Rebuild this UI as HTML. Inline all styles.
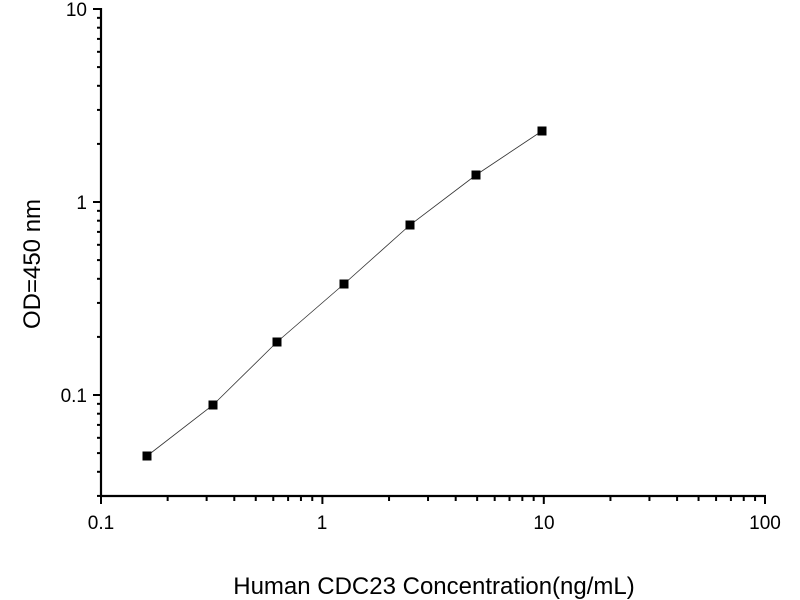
<!DOCTYPE html>
<html><head><meta charset="utf-8"><style>
html,body{margin:0;padding:0;background:#fff;}
svg{display:block;font-family:"Liberation Sans",Arial,sans-serif;}
</style></head><body>
<svg id="s" width="800" height="600" viewBox="0 0 800 600" xmlns="http://www.w3.org/2000/svg">
<g stroke="#000" stroke-width="2.2" fill="none">
<line x1="101" y1="8" x2="101" y2="496"/>
<line x1="100" y1="496" x2="766" y2="496"/>
</g>
<g id="ticks" stroke="#000" stroke-width="2"></g>
<g font-size="19" fill="#000">
<text x="87" y="16" text-anchor="end">10</text>
<text x="87" y="209" text-anchor="end">1</text>
<text x="87" y="402" text-anchor="end">0.1</text>
<text x="101" y="529" text-anchor="middle">0.1</text>
<text x="322" y="529" text-anchor="middle">1</text>
<text x="544" y="529" text-anchor="middle">10</text>
<text x="765" y="529" text-anchor="middle">100</text>
<text x="434" y="594" text-anchor="middle" font-size="24">Human CDC23 Concentration(ng/mL)</text>
<text transform="translate(40,264) rotate(-90)" text-anchor="middle" font-size="24">OD=450 nm</text>
</g>
<polyline fill="none" stroke="#333" stroke-width="0.8" points="147,456 213,405 277,342 344,284 410,225 476,175 542,131"/>
<g fill="#000">
<rect x="142.5" y="451.5" width="9" height="9"/>
<rect x="208.5" y="400.5" width="9" height="9"/>
<rect x="272.5" y="337.5" width="9" height="9"/>
<rect x="339.5" y="279.5" width="9" height="9"/>
<rect x="405.5" y="220.5" width="9" height="9"/>
<rect x="471.5" y="170.5" width="9" height="9"/>
<rect x="537.5" y="126.5" width="9" height="9"/>
</g>
</svg>
<script>
var g=document.getElementById('ticks'),h='';
function L(a,b,c,d){h+='<line x1="'+a+'" y1="'+b+'" x2="'+c+'" y2="'+d+'"/>';}
for(var d=0;d<3;d++){for(var k=1;k<10;k++){var x=101+221.4*(d+Math.log10(k));L(x,496,x,k==1?504:501);}}
L(765,496,765,504);
for(var d=-2;d<1;d++){for(var k=1;k<10;k++){var y=202-193*(d+Math.log10(k));if(y>496)continue;L(101,y,k==1?93:97,y);}}
L(101,9,93,9);
g.innerHTML=h;
</script>
</body></html>
